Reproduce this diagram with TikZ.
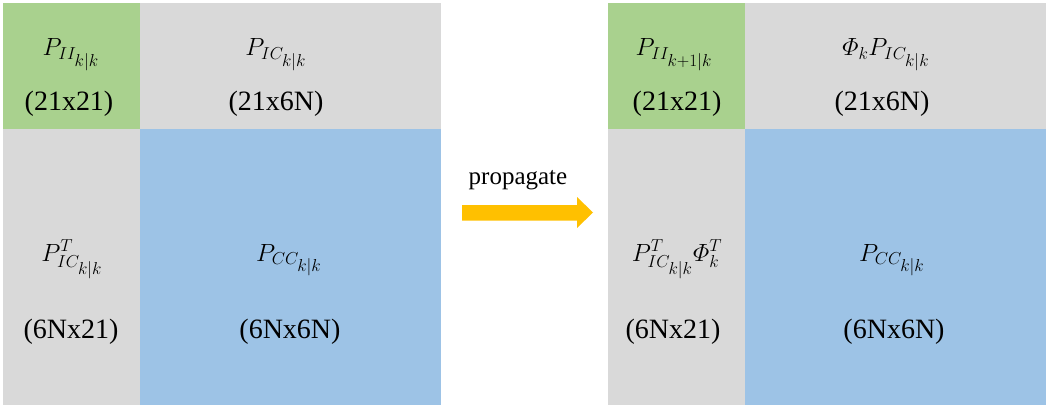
\documentclass[tikz,border=0pt]{standalone}
\usepackage{amsmath}
\usepackage{fontspec}
\setmainfont{Liberation Serif}
\DeclareMathSizes{25}{25}{18}{16}
\newcommand{\ssub}[1]{{\scriptstyle #1}}
\definecolor{cgreen}{RGB}{169,209,142}
\definecolor{cgray}{RGB}{217,217,217}
\definecolor{cblue}{RGB}{157,195,230}
\definecolor{carrow}{RGB}{255,192,0}
\begin{document}
\begin{tikzpicture}[x=1pt,y=-1pt,
  blk/.style={inner sep=0pt,outer sep=0pt,draw=none,anchor=north west},
  lbl/.style={inner sep=0pt,anchor=base,font=\fontsize{28}{33}\selectfont},
  mlbl/.style={inner sep=0pt,anchor=base,font=\fontsize{25}{30}\selectfont}]
\useasboundingbox (0,0) rectangle (1050,409);
% left matrix
\node[blk,fill=cgreen,minimum width=137pt,minimum height=126pt] (lg) at (3,3) {};
\node[blk,fill=cgray,minimum width=301pt,minimum height=126pt] (lt) at (140,3) {};
\node[blk,fill=cgray,minimum width=137pt,minimum height=276pt] (ll) at (3,129) {};
\node[blk,fill=cblue,minimum width=301pt,minimum height=276pt] (lb) at (140,129) {};
% right matrix
\node[blk,fill=cgreen,minimum width=137pt,minimum height=126pt] (rg) at (608,3) {};
\node[blk,fill=cgray,minimum width=301pt,minimum height=126pt] (rt) at (745,3) {};
\node[blk,fill=cgray,minimum width=137pt,minimum height=276pt] (rl) at (608,129) {};
\node[blk,fill=cblue,minimum width=301pt,minimum height=276pt] (rb) at (745,129) {};
% left labels
\node[mlbl] (l1) at (71,56) {$P_{II_{\ssub{k|k}}}$};
\node[lbl] (l2) at (69,111) {(21x21)};
\node[mlbl] (l3) at (276,56) {$P_{IC_{\ssub{k|k}}}$};
\node[lbl] (l4) at (276,111) {(21x6N)};
\node[mlbl] (l5) at (72,261) {$P^{T}_{IC_{\ssub{k|k}}}$};
\node[lbl] (l6) at (71,338) {(6Nx21)};
\node[mlbl] (l7) at (289,261) {$P_{CC_{\ssub{k|k}}}$};
\node[lbl] (l8) at (290,338) {(6Nx6N)};
% right labels
\node[mlbl] (r1) at (674,56) {$P_{II_{\ssub{k+1|k}}}$};
\node[lbl] (r2) at (677,111) {(21x21)};
\node[mlbl] (r3) at (886,56) {$\varPhi_k P_{IC_{\ssub{k|k}}}$};
\node[lbl] (r4) at (882,111) {(21x6N)};
\node[mlbl] (r5) at (677,261) {$P^{T}_{IC_{\ssub{k|k}}}\varPhi^{T}_{k}$};
\node[lbl] (r6) at (673,338) {(6Nx21)};
\node[mlbl] (r7) at (892,261) {$P_{CC_{\ssub{k|k}}}$};
\node[lbl] (r8) at (894,338) {(6Nx6N)};
% arrow
\node[inner sep=0pt,anchor=base,font=\fontsize{25}{30}\selectfont] (prop) at (518,185) {propagate};
\fill[carrow] (462,205) -- (577,205) -- (577,197) -- (593,212.5) -- (577,228) -- (577,220.5) -- (462,220.5) -- cycle;
\end{tikzpicture}
\end{document}
